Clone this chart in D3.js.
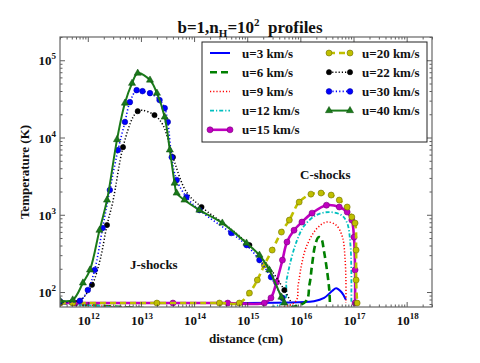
<!DOCTYPE html>
<html>
<head>
<meta charset="utf-8">
<script src="https://cdn.jsdelivr.net/npm/d3@7"></script>
<style>
  body { margin: 0; background: #fff; }
  text { font-family: "Liberation Serif", "DejaVu Serif", serif; font-weight: bold; fill: #111; }
</style>
</head>
<body>
<div id="graf"></div>
<script>
// Datos: [distancia (cm), temperatura (K)]
const u3 = [[3.0e11, 72], [9.5e15, 74], [1.8e16, 76], [2.8e16, 84], [4.0e16, 104], [4.7e16, 112], [5.9e16, 100], [7.2e16, 79]]
const u6 = [[3.0e11, 72], [1.17e16, 72], [1.48e16, 124], [1.66e16, 224], [1.9e16, 405], [2.2e16, 513], [2.45e16, 500], [2.8e16, 329], [3.2e16, 182], [3.5e16, 106], [3.6e16, 72]]
const u9 = [[3.0e11, 72], [7.6e15, 72], [9.1e15, 124], [1.05e16, 224], [1.29e16, 382], [2.0e16, 653], [3.1e16, 805], [4.7e16, 736], [6.2e16, 513], [6.9e16, 284], [7.2e16, 143], [7.2e16, 72]]
const u12 = [[3.0e11, 72], [4.6e15, 72], [5.5e15, 143], [6.8e15, 276], [8.7e15, 471], [1.17e16, 714], [2.0e16, 990], [3.5e16, 1085], [5.9e16, 990], [7.6e16, 781], [8.7e16, 430], [9.1e16, 193], [9.1e16, 72]]
const u15 = [[3.0e11, 72], [5.8e11, 72], [4.0e13, 72], [4.3e14, 72], [2.1e15, 72], [2.8e15, 84], [3.55e15, 134], [4.6e15, 259], [5.6e15, 444], [7.6e15, 631], [1.07e16, 805], [1.66e16, 1050], [3.1e16, 1330], [5.4e16, 1260], [7.6e16, 1085], [9.3e16, 853], [1.02e17, 513], [1.07e17, 193], [1.07e17, 72]]
const u20 = [[3.0e11, 72], [5.2e11, 72], [2.0e13, 72], [3.0e14, 72], [7.1e14, 72], [1.1e15, 97], [1.55e15, 143], [2.1e15, 224], [2.95e15, 349], [4.4e15, 597], [6.2e15, 853], [9.5e15, 1460], [1.58e16, 1850], [2.45e16, 1910], [3.8e16, 1800], [5.4e16, 1550], [7.6e16, 1260], [9.3e16, 935], [1.07e17, 780], [1.12e17, 349], [1.12e17, 143], [1.17e17, 72]]
const u22 = [[3.0e11, 75], [7.1e11, 79], [1.2e12, 124], [1.7e12, 259], [2.3e12, 736], [2.95e12, 1460], [4.6e12, 7500], [7.1e12, 18400], [8.7e12, 21900], [1.05e13, 22600], [1.8e13, 19500], [2.6e13, 14500], [4.0e13, 5570], [7.2e13, 1970], [1.38e14, 1260], [4.7e14, 673], [1.1e15, 405], [2.4e15, 224], [5.0e15, 106], [6.8e15, 72]]
const u30 = [[3.0e11, 76], [7.1e11, 77], [1.0e12, 106], [1.35e12, 193], [1.9e12, 675], [2.6e12, 2090], [3.7e12, 6870], [5.0e12, 15900], [6.2e12, 28700], [8.3e12, 41000], [1.07e13, 39800], [1.48e13, 37500], [2.24e13, 30500], [2.8e13, 24000], [3.2e13, 15900], [3.8e13, 5570], [4.7e13, 2820], [7.2e13, 1700], [1.26e14, 1150], [5.0e14, 580], [9.7e14, 405], [1.7e15, 259], [2.8e15, 156], [4.6e15, 84]]
const u40 = [[3.0e11, 77], [5.2e11, 79], [8.1e11, 131], [1.1e12, 193], [1.66e12, 631], [2.3e12, 1550], [3.55e12, 9400], [5.0e12, 27900], [6.8e12, 50300], [8.7e12, 68000], [1.48e13, 55400], [2.0e13, 37500], [2.8e13, 18400], [3.5e13, 6900], [4.3e13, 2570], [4.7e13, 1910], [6.6e13, 1550], [1.26e14, 1150], [3.4e14, 781], [9.7e14, 430], [1.7e15, 300], [2.6e15, 193], [4.4e15, 86], [5.0e15, 72]]

const etiquetas = ["u=3 km/s", "u=6 km/s", "u=9 km/s", "u=12 km/s", "u=15 km/s", "u=20 km/s", "u=22 km/s", "u=30 km/s", "u=40 km/s"]
const xTicks = [1e12, 1e13, 1e14, 1e15, 1e16, 1e17, 1e18]
const yTicks = [1e2, 1e3, 1e4, 1e5]

const series = [
  { datos: u3, color: "#0000ff", ancho: 2, dash: null, marca: null },
  { datos: u6, color: "#008000", ancho: 2.6, dash: "7,4", marca: null },
  { datos: u9, color: "#ff0000", ancho: 1.5, dash: "1.2,2", marca: null },
  { datos: u12, color: "#00bfbf", ancho: 1.8, dash: "4,2,1.2,2", marca: null },
  { datos: u15, color: "#bf00bf", ancho: 2.6, dash: null, marca: "circulo", r: 3, borde: "#7a007a" },
  { datos: u20, color: "#bfbf00", ancho: 2.6, dash: "6,4", marca: "circulo", r: 3, borde: "#6f6f00" },
  { datos: u22, color: "#000000", ancho: 1.5, dash: "1.2,2", marca: "circulo", r: 2.6, borde: "#000", cada: 2 },
  { datos: u30, color: "#0000ff", ancho: 1.6, dash: "1.2,2.2", marca: "circulo", r: 2.8, borde: "#0000aa" },
  { datos: u40, color: "#1a7a1a", ancho: 2, dash: null, marca: "triangulo", r: 3, borde: "#0a4a0a" }
]

const draw = (el) => {
  const W = 480
  const H = 363
  const svg = d3.select(el).append("svg").attr("width", W).attr("height", H)

  // Escaladores
  const x = d3.scaleLog().domain([3e11, 3e18]).range([60, 432])
  const y = d3.scaleLog().domain([64, 2e5]).range([307, 37])

  const linea = d3.line()
    .x((d) => x(d[0]))
    .y((d) => y(d[1]))
    .curve(d3.curveCatmullRom.alpha(0.5))

  const clip = svg.append("clipPath").attr("id", "area")
  clip.append("rect").attr("x", 60).attr("y", 37).attr("width", 372).attr("height", 270)

  const g = svg.append("g").attr("clip-path", "url(#area)")

  const marcar = (sel, s, px, py) => {
    if (s.marca === "circulo") {
      sel.append("circle").attr("cx", px).attr("cy", py).attr("r", s.r)
        .attr("fill", s.color).attr("stroke", s.borde).attr("stroke-width", 0.6)
    } else if (s.marca === "triangulo") {
      sel.append("path").attr("d", d3.symbol(d3.symbolTriangle, 22)())
        .attr("transform", `translate(${px},${py})`)
        .attr("fill", s.color).attr("stroke", s.borde).attr("stroke-width", 0.5)
    }
  }

  series.forEach((s) => {
    g.append("path")
      .datum(s.datos)
      .attr("d", linea)
      .attr("fill", "none")
      .attr("stroke", s.color)
      .attr("stroke-width", s.ancho)
      .attr("stroke-dasharray", s.dash)
      .attr("stroke-linejoin", "round")
    if (s.marca) {
      const cada = s.cada || 1
      s.datos.forEach((d, i) => {
        if (i % cada === 0) marcar(g, s, x(d[0]), y(d[1]))
      })
    }
  })

  // Ejes
  const menoresX = x.ticks().filter((t) => !xTicks.includes(t))
  const menoresY = y.ticks().filter((t) => !yTicks.includes(t))

  const ejes = svg.append("g").attr("class", "ejes")
  const estilo = (sel) => {
    sel.select(".domain").remove()
    sel.selectAll("line").attr("stroke", "#333").attr("stroke-width", 0.8)
  }

  ejes.append("g").attr("transform", "translate(0,307)")
    .call(d3.axisBottom(x).tickValues(xTicks).tickSize(-5).tickFormat("")).call(estilo)
  ejes.append("g").attr("transform", "translate(0,307)")
    .call(d3.axisBottom(x).tickValues(menoresX).tickSize(-2.5).tickFormat("")).call(estilo)
  ejes.append("g").attr("transform", "translate(0,37)")
    .call(d3.axisTop(x).tickValues(xTicks).tickSize(-5).tickFormat("")).call(estilo)
  ejes.append("g").attr("transform", "translate(0,37)")
    .call(d3.axisTop(x).tickValues(menoresX).tickSize(-2.5).tickFormat("")).call(estilo)
  ejes.append("g").attr("transform", "translate(60,0)")
    .call(d3.axisLeft(y).tickValues(yTicks).tickSize(-5).tickFormat("")).call(estilo)
  ejes.append("g").attr("transform", "translate(60,0)")
    .call(d3.axisLeft(y).tickValues(menoresY).tickSize(-2.5).tickFormat("")).call(estilo)
  ejes.append("g").attr("transform", "translate(432,0)")
    .call(d3.axisRight(y).tickValues(yTicks).tickSize(-5).tickFormat("")).call(estilo)
  ejes.append("g").attr("transform", "translate(432,0)")
    .call(d3.axisRight(y).tickValues(menoresY).tickSize(-2.5).tickFormat("")).call(estilo)

  svg.append("rect")
    .attr("x", 60).attr("y", 37).attr("width", 372).attr("height", 270)
    .attr("fill", "none").attr("stroke", "#666").attr("stroke-width", 1.2)

  // Etiquetas de ticks con exponente
  const potencia = (sel, v) => {
    sel.append("tspan").text("10")
    sel.append("tspan").attr("dy", -6).attr("font-size", 9).text(Math.round(Math.log10(v)))
  }

  xTicks.forEach((t) => {
    svg.append("text").attr("x", x(t) + 1).attr("y", 325)
      .attr("text-anchor", "middle").attr("font-size", 13)
      .call(potencia, t)
  })
  yTicks.forEach((t) => {
    svg.append("text").attr("x", 56).attr("y", y(t) + 5)
      .attr("text-anchor", "end").attr("font-size", 13)
      .call(potencia, t)
  })

  // Títulos
  const titulo = svg.append("text").attr("x", 250).attr("y", 33)
    .attr("text-anchor", "middle").attr("font-size", 17)
  titulo.append("tspan").text("b=1,n")
  titulo.append("tspan").attr("dy", 4).attr("font-size", 11).text("H")
  titulo.append("tspan").attr("dy", -4).text("=10")
  titulo.append("tspan").attr("dy", -7).attr("font-size", 11).text("2")
  titulo.append("tspan").attr("dy", 7).text("\u2002profiles")

  svg.append("text").attr("x", 246).attr("y", 343)
    .attr("text-anchor", "middle").attr("font-size", 13).text("distance (cm)")

  svg.append("text").attr("transform", "translate(29,172) rotate(-90)")
    .attr("text-anchor", "middle").attr("font-size", 13).text("Temperature (K)")

  svg.append("text").attr("x", 130).attr("y", 269).attr("font-size", 13).text("J-shocks")
  svg.append("text").attr("x", 300).attr("y", 179).attr("font-size", 13).text("C-shocks")

  // Leyenda
  const ley = svg.append("g")
  ley.append("rect").attr("x", 202).attr("y", 42).attr("width", 225).attr("height", 100)
    .attr("fill", "#fff").attr("stroke", "#222").attr("stroke-width", 1)

  series.forEach((s, i) => {
    const col = i < 5 ? 0 : 1
    const fila = i < 5 ? i : i - 5
    const x0 = col === 0 ? 210 : 329
    const x1 = col === 0 ? 230 : 350
    const tx = col === 0 ? 242 : 362
    const yy = 53 + fila * 19.2
    ley.append("line").attr("x1", x0).attr("x2", x1).attr("y1", yy).attr("y2", yy)
      .attr("stroke", s.color).attr("stroke-width", s.ancho).attr("stroke-dasharray", s.dash)
    if (s.marca) {
      marcar(ley, s, x0, yy)
      marcar(ley, s, x1, yy)
    }
    ley.append("text").attr("x", tx).attr("y", yy + 4.5).attr("font-size", 13).text(etiquetas[i])
  })
}

draw("#graf")
</script>
</body>
</html>
